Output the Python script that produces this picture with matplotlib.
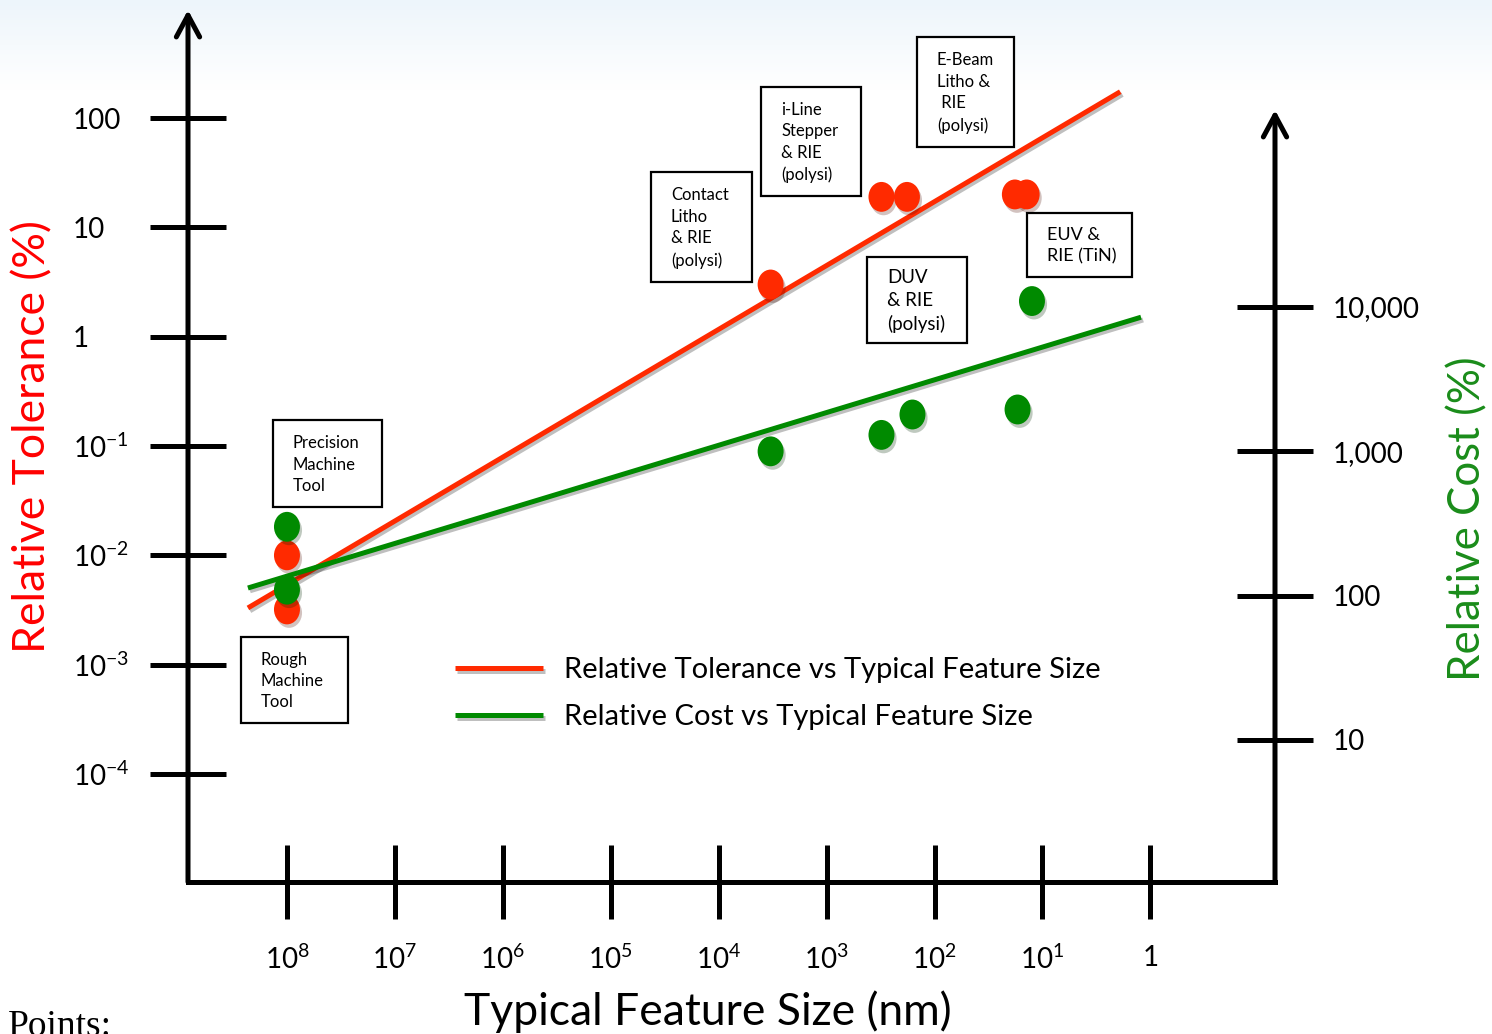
import matplotlib
matplotlib.use('Agg')
import matplotlib.pyplot as plt
import matplotlib.patheffects as pe
from matplotlib.path import Path
from matplotlib.patches import Rectangle
from matplotlib.ticker import NullLocator
import numpy as np

plt.rcParams['font.family'] = ['Lato', 'DejaVu Sans']
plt.rcParams['mathtext.fontset'] = 'custom'
plt.rcParams['mathtext.rm'] = 'Lato'
plt.rcParams['mathtext.it'] = 'Lato:italic'
plt.rcParams['mathtext.bf'] = 'Lato:bold'

# --- data -----------------------------------------------------------------
# typical feature size (nm) and relative tolerance (%)
tol_size = [1e8, 1e8, 3300, 310, 180, 18, 14]
tol_value = [0.01, 0.0032, 3.0, 19, 19, 20, 20]

# typical feature size (nm) and relative cost (%)
cost_size = [1e8, 1e8, 3300, 310, 160, 17, 12.5]
cost_value = [300, 110, 1000, 1300, 1800, 1950, 11000]

# trend lines (end points)
tol_fit_size = [2.3e8, 1.9]
tol_fit_value = [0.0033, 174]
cost_fit_size = [2.3e8, 1.22]
cost_fit_value = [113, 8500]

x_ticks = [1e8, 1e7, 1e6, 1e5, 1e4, 1e3, 1e2, 1e1, 1]
x_labels = ['$10^8$', '$10^7$', '$10^6$', '$10^5$', '$10^4$', '$10^3$',
            '$10^2$', '$10^1$', '1']
tol_ticks = [100, 10, 1, 0.1, 0.01, 0.001, 0.0001]
tol_labels = ['100', '10', '1', '$10^{-1}$', '$10^{-2}$', '$10^{-3}$', '$10^{-4}$']
cost_ticks = [10000, 1000, 100, 10]
cost_labels = ['10,000', '1,000', '100', '10']

box_texts = ['Precision\nMachine\nTool', 'Rough\nMachine\nTool',
             'Contact\nLitho\n& RIE\n(polysi)', 'i-Line\nStepper\n& RIE\n(polysi)',
             'E-Beam\nLitho &\n RIE\n(polysi)', 'DUV\n& RIE\n(polysi)',
             'EUV &\nRIE (TiN)']

RED = '#ff2a00'
GREEN = '#008a00'
W, H = 1492, 1034

fig = plt.figure(figsize=(W / 100, H / 100), dpi=100, facecolor='white')

# faint blue band at the top
bg = fig.add_axes([0, 1 - 90 / H, 1, 90 / H], zorder=-5)
grad = np.linspace(0, 1, 100)[:, None]
bg.imshow(grad, aspect='auto', cmap=matplotlib.colors.LinearSegmentedColormap.from_list(
    'bg', ['#edf5fb', '#ffffff']), extent=[0, 1, 0, 1], origin='upper')
bg.axis('off')

ax = fig.add_axes([188 / W, 1 - 882 / H, (1275 - 188) / W, (882 - 10) / H])
ax.patch.set_visible(False)
ax.set_xscale('log')
ax.set_yscale('log')
ax.set_xlim(10 ** 8.917, 10 ** -1.155)
ax.set_ylim(10 ** -4.988, 10 ** 2.988)

ax2 = ax.twinx()
ax2.patch.set_visible(False)
ax2.set_yscale('log')
ax2.set_ylim(10 ** 0.016, 10 ** 6.058)

for a in (ax, ax2):
    for s in a.spines.values():
        s.set_visible(False)
ax.spines['bottom'].set_visible(True)
ax.spines['bottom'].set_linewidth(3.6)
ax.spines['bottom'].set_capstyle('projecting')

ax.set_xticks(x_ticks, x_labels)
ax.set_yticks(tol_ticks, tol_labels)
ax2.set_yticks(cost_ticks, cost_labels)
for axis in (ax.xaxis, ax.yaxis, ax2.yaxis):
    axis.set_minor_locator(NullLocator())

ax.tick_params(axis='x', direction='inout', length=52.6, width=3.6, pad=19,
               labelsize=20)
ax.tick_params(axis='y', direction='inout', length=55.4, width=3.6, pad=55,
               labelsize=20)
ax2.tick_params(axis='y', direction='inout', length=55, width=3.6, pad=14,
                labelsize=20)
plt.setp(ax.get_yticklabels(), ha='left')

# axis arrows
arrow = dict(arrowstyle='->,head_length=0.78,head_width=0.42', lw=3.6,
             color='black', shrinkA=0, shrinkB=0, mutation_scale=20)
ax.annotate('', xy=(0, 1), xytext=(0, 0), xycoords='axes fraction', arrowprops=arrow)
ax2.annotate('', xy=(1, (882 - 110) / (882 - 10)), xytext=(1, 0),
             xycoords='axes fraction', arrowprops=arrow)

# dots and trend lines
circ = Path.unit_circle()
dot = Path(circ.vertices * [0.87, 1.0], circ.codes)
line_fx = [pe.SimpleLineShadow(offset=(1.5, -2), alpha=0.25), pe.Normal()]
dot_fx = [pe.SimplePatchShadow(offset=(1.5, -2.5), alpha=0.25), pe.Normal()]

ax.plot(tol_fit_size, tol_fit_value, color=RED, lw=3.6, path_effects=line_fx,
        label='Relative Tolerance vs Typical Feature Size', solid_capstyle='butt')
ax2.plot(cost_fit_size, cost_fit_value, color=GREEN, lw=3.6, path_effects=line_fx,
         label='Relative Cost vs Typical Feature Size', solid_capstyle='butt')
ax.plot(tol_size, tol_value, ls='none', marker=dot, ms=21.5, color=RED,
        mec='none', path_effects=dot_fx, zorder=4)
ax2.plot(cost_size, cost_value, ls='none', marker=dot, ms=21.5, color=GREEN,
         mec='none', path_effects=dot_fx, zorder=4)

h1, l1 = ax.get_legend_handles_labels()
h2, l2 = ax2.get_legend_handles_labels()
ax2.legend(h1 + h2, l1 + l2, loc='upper left', bbox_to_anchor=(455 / W, 1 - 657 / H),
           bbox_transform=fig.transFigure, frameon=False, fontsize=21,
           handlelength=3.0, handletextpad=0.75, labelspacing=0.73,
           borderpad=0, borderaxespad=0)

# axis titles
fig.text(33 / W, 1 - 437 / H, 'Relative Tolerance (%)', color='#ff0000',
         fontsize=32, rotation=90, ha='center', va='center')
fig.text(1468 / W, 1 - 519 / H, 'Relative Cost (%)', color='#1a8c1a',
         fontsize=31.5, rotation=90, ha='center', va='center')
fig.text(708 / W, 1 - 1012 / H, 'Typical Feature Size (nm)', fontsize=32,
         ha='center', va='center')
fig.text(8 / W, 1 - 1010 / H, 'Points:', fontsize=27, family='Liberation Serif',
         ha='left', va='top')

# annotation boxes, in pixel coordinates
ov = fig.add_axes([0, 0, 1, 1], zorder=5)
ov.set_xlim(0, W)
ov.set_ylim(H, 0)
ov.axis('off')
box_rects = [(273, 420, 382, 507), (241, 637, 348, 723), (651, 172, 752, 282),
             (761, 87, 861, 196), (917, 37, 1014, 147), (867, 257, 967, 343),
             (1027, 213, 1132, 277)]
box_font = [12, 12, 12, 12, 12, 13.5, 13]
for text, (x0, y0, x1, y1), fs in zip(box_texts, box_rects, box_font):
    ov.add_patch(Rectangle((x0, y0), x1 - x0, y1 - y0, fc='white', ec='black',
                           lw=1.6))
    ov.text(x0 + 20, (y0 + y1) / 2 + 1, text, fontsize=fs, ha='left', va='center',
            linespacing=1.42)

fig.savefig('out.png', dpi=100)
